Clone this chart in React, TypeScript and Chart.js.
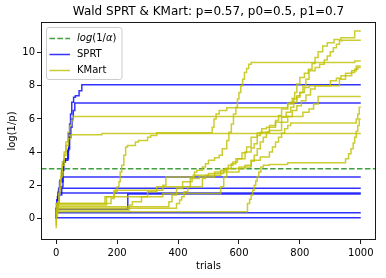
import React, { useEffect, useRef } from "react";
import { Chart, registerables } from "chart.js";

Chart.register(...registerables);

const TITLE = "Wald SPRT & KMart: p=0.57, p0=0.5, p1=0.7";
const X_LABEL = "trials";
const Y_LABEL = "log(1/p)";
const X_TICKS = [0, 200, 400, 600, 800, 1000];
const Y_TICKS = [0, 2, 4, 6, 8, 10];
const X_MIN = -50;
const X_MAX = 1050;
const Y_MIN = -1.31;
const Y_MAX = 11.85;
const THRESHOLD = 2.996; // log(1/alpha), alpha = 0.05
const LEGEND_LABELS = ["SPRT", "KMart"];

// SPRT paths: [trial, log(1/p)]
const sprt1 = [[0, 0], [3, 0.5], [7, 1.1], [11, 1.6], [15, 2.2], [22, 2.2], [25, 2.9], [28, 3.5], [38, 3.5], [41, 4.1], [44, 5.1], [47, 5.7], [51, 6.3], [57, 7.0], [63, 7.3], [75, 7.4], [84, 7.7], [90, 8.06], [1000, 8.06]];
const sprt2 = [[0, 0], [4, 0.6], [8, 1.3], [12, 1.8], [18, 2.3], [23, 2.9], [30, 3.4], [40, 3.6], [44, 4.2], [48, 4.9], [52, 5.5], [56, 6.0], [61, 6.5], [66, 6.96], [1000, 6.96]];
const sprt3 = [[0, 0], [4, 0.4], [8, 0.9], [12, 1.4], [18, 1.4], [22, 1.9], [28, 2.5], [1000, 2.5]];
const sprt4 = [[0, 0], [4, 0.55], [8, 1.1], [14, 1.82], [1000, 1.82]];
const sprt5 = [[0, 0], [3, 0.6], [6, 1.1], [9, 1.52], [1000, 1.52]];
const sprt6 = [[0, 0], [3, 0.55], [235, 0.55], [237, 1.47], [1000, 1.47]];
const sprt7 = [[0, 0], [3, 0.34], [1000, 0.34]];
const sprt8 = [[0, 0.04], [1000, 0.04]];

// KMart paths: [trial, log(1/p)]
const kmart1 = [[0, -0.6], [4, 0.1], [8, 0.8], [12, 1.5], [16, 2.2], [20, 2.8], [26, 3.4], [32, 4.0], [38, 4.6], [44, 5.2], [50, 5.6], [56, 5.9], [62, 6.15], [810, 6.15], [830, 6.4], [845, 6.6], [860, 6.9], [875, 7.35], [1000, 7.35]];
const kmart2 = [[0, -0.4], [5, 0.3], [10, 1.0], [15, 1.8], [20, 2.5], [26, 3.2], [32, 3.8], [40, 4.4], [48, 4.8], [58, 5.05], [150, 5.05], [160, 5.12], [1000, 5.12]];
const kmart3 = [[0, 0.2], [5, 0.5], [10, 0.8], [165, 0.8], [170, 1.3], [190, 1.3], [200, 1.6], [206, 1.9], [210, 2.2], [215, 2.8], [222, 3.2], [228, 3.8], [234, 4.3], [260, 4.4], [270, 4.6], [300, 4.7], [310, 4.9], [330, 5.0], [335, 5.17], [512, 5.17], [518, 5.5], [525, 6.0], [535, 6.3], [560, 6.5], [575, 6.68], [760, 6.68], [770, 6.95], [780, 7.0], [790, 7.2], [800, 7.4], [815, 7.6], [830, 7.9], [860, 8.0], [900, 8.0], [920, 8.3], [935, 8.45], [950, 8.6], [970, 8.75], [985, 8.9], [995, 9.2], [1000, 9.2]];
const kmart4 = [[0, 0.1], [6, 0.4], [628, 0.4], [635, 0.9], [640, 1.15], [645, 1.4], [650, 1.7], [655, 2.0], [660, 2.25], [665, 2.5], [672, 2.8], [680, 3.1], [700, 3.2], [760, 3.25], [820, 3.35], [950, 3.35], [960, 3.6], [968, 3.9], [975, 4.2], [980, 4.55], [985, 4.9], [990, 5.25], [995, 5.6], [1000, 6.0]];
const kmart5 = [[0, 0.5], [5, 0.6], [395, 0.6], [405, 0.9], [412, 1.1], [420, 1.3], [432, 1.6], [440, 1.9], [446, 2.2], [454, 2.5], [462, 2.8], [480, 2.9], [490, 3.1], [500, 3.3], [520, 3.5], [535, 3.65], [545, 3.8], [560, 4.2], [567, 4.7], [575, 5.2], [582, 5.7], [590, 6.3], [595, 6.7], [600, 7.2], [606, 7.6], [612, 8.0], [618, 8.4], [625, 8.8], [632, 9.05], [640, 9.3], [690, 9.4], [980, 9.4], [990, 9.5], [1000, 9.5]];
const kmart6 = [[0, 0.7], [10, 0.9], [180, 0.9], [190, 1.2], [200, 1.7], [350, 1.7], [360, 2.0], [372, 2.5], [450, 2.5], [470, 2.6], [540, 2.6], [555, 2.9], [600, 3.0], [640, 3.1], [650, 3.45], [660, 3.8], [670, 4.2], [680, 4.6], [690, 4.9], [700, 5.2], [720, 5.6], [730, 5.9], [740, 6.2], [760, 6.6], [775, 6.9], [783, 7.25], [790, 7.6], [800, 8.1], [815, 8.5], [828, 8.75], [840, 9.0], [850, 9.35], [860, 9.7], [875, 10.05], [890, 10.4], [912, 10.6], [935, 10.8], [980, 10.9], [993, 11.3], [1000, 11.3]];
const kmart7 = [[0, 0.6], [8, 0.7], [370, 0.7], [380, 1.0], [395, 1.4], [415, 1.8], [440, 2.2], [470, 2.4], [520, 2.5], [550, 2.7], [565, 2.95], [580, 3.2], [595, 3.4], [610, 3.6], [625, 3.95], [640, 4.3], [660, 4.9], [675, 5.15], [690, 5.4], [720, 5.5], [740, 5.8], [755, 6.1], [770, 6.4], [780, 6.7], [790, 7.0], [800, 7.3], [810, 7.6], [820, 8.0], [830, 8.4], [850, 8.9], [865, 9.1], [880, 9.3], [890, 9.55], [900, 9.8], [910, 10.05], [920, 10.3], [930, 10.5], [940, 10.72], [1000, 10.75]];
const kmart8 = [[0, 0.8], [10, 0.9], [160, 0.9], [170, 1.3], [350, 1.3], [360, 1.5], [540, 1.5], [550, 1.9], [560, 2.5], [575, 3.0], [590, 3.3], [620, 3.6], [640, 4.0], [650, 4.25], [660, 4.5], [670, 5.0], [700, 5.2], [740, 5.3], [760, 5.8], [775, 6.15], [790, 6.5], [805, 6.8], [820, 7.1], [835, 7.45], [850, 7.8], [880, 8.0], [930, 8.0], [950, 8.4], [970, 8.6], [980, 8.8], [990, 9.0], [1000, 9.1]];
const kmart9 = [[0, 0.4], [6, 0.5], [240, 0.5], [250, 0.8], [280, 1.0], [300, 1.3], [330, 1.6], [350, 1.9], [480, 1.9], [490, 2.4], [500, 2.6], [520, 2.7], [600, 2.8], [620, 3.0], [640, 3.2], [670, 3.5], [700, 3.7], [710, 4.0], [720, 4.3], [730, 4.6], [740, 4.9], [750, 5.15], [760, 5.4], [770, 5.6], [780, 5.75], [985, 5.75], [990, 6.0], [995, 6.3], [1000, 6.7]];

const SPRT_SERIES = [sprt1, sprt2, sprt3, sprt4, sprt5, sprt6, sprt7, sprt8];
const KMART_SERIES = [kmart1, kmart2, kmart3, kmart4, kmart5, kmart6, kmart7, kmart8, kmart9];

const BLUE = "rgba(0,0,255,0.8)";
const YELLOW = "rgba(191,191,0,0.8)";
const GREEN = "rgba(0,128,0,0.75)";
const FONT = '"DejaVu Sans", sans-serif';

const toPts = (arr: number[][]) => arr.map(([x, y]) => ({ x, y }));

const decorPlugin = {
  id: "decor",
  afterDraw(chart: any) {
    const { ctx, chartArea } = chart;
    const { left, right, top, bottom } = chartArea;
    ctx.save();
    ctx.strokeStyle = "#1a1a1a";
    ctx.lineWidth = 1;
    ctx.strokeRect(left + 0.5, top + 0.5, right - left - 1, bottom - top - 1);
    ctx.fillStyle = "#000";
    ctx.textAlign = "center";
    ctx.textBaseline = "middle";
    ctx.font = `12px ${FONT}`;
    ctx.fillText(TITLE, (left + right) / 2, 12);
    ctx.font = `10px ${FONT}`;
    ctx.fillText(X_LABEL, (left + right) / 2, 266);
    ctx.save();
    ctx.translate(12, (top + bottom) / 2);
    ctx.rotate(-Math.PI / 2);
    ctx.fillText(Y_LABEL, 0, 0);
    ctx.restore();

    const bx = 46.5, by = 27.5, bw = 75.5, bh = 52, r = 2.5;
    ctx.beginPath();
    ctx.moveTo(bx + r, by);
    ctx.lineTo(bx + bw - r, by);
    ctx.quadraticCurveTo(bx + bw, by, bx + bw, by + r);
    ctx.lineTo(bx + bw, by + bh - r);
    ctx.quadraticCurveTo(bx + bw, by + bh, bx + bw - r, by + bh);
    ctx.lineTo(bx + r, by + bh);
    ctx.quadraticCurveTo(bx, by + bh, bx, by + bh - r);
    ctx.lineTo(bx, by + r);
    ctx.quadraticCurveTo(bx, by, bx + r, by);
    ctx.closePath();
    ctx.fillStyle = "rgba(255,255,255,0.8)";
    ctx.fill();
    ctx.strokeStyle = "#cccccc";
    ctx.lineWidth = 1;
    ctx.stroke();

    const rows = [38.5, 54.5, 70.5];
    const hx0 = 49.5, hx1 = 70, tx = 77;
    ctx.lineWidth = 1.5;
    ctx.strokeStyle = GREEN;
    ctx.setLineDash([5.5, 2.4]);
    ctx.beginPath();
    ctx.moveTo(hx0, rows[0]);
    ctx.lineTo(hx1, rows[0]);
    ctx.stroke();
    ctx.setLineDash([]);
    ctx.strokeStyle = BLUE;
    ctx.beginPath();
    ctx.moveTo(hx0, rows[1]);
    ctx.lineTo(hx1, rows[1]);
    ctx.stroke();
    ctx.strokeStyle = YELLOW;
    ctx.beginPath();
    ctx.moveTo(hx0, rows[2]);
    ctx.lineTo(hx1, rows[2]);
    ctx.stroke();

    ctx.fillStyle = "#000";
    ctx.textAlign = "left";
    ctx.textBaseline = "middle";
    const parts: [string, boolean][] = [["log", true], ["(1/", false], ["α", true], [")", false]];
    let cx = tx;
    for (const [s, it] of parts) {
      ctx.font = `${it ? "italic " : ""}10px ${FONT}`;
      ctx.fillText(s, cx, rows[0]);
      cx += ctx.measureText(s).width;
    }
    ctx.font = `10px ${FONT}`;
    ctx.fillText(LEGEND_LABELS[0], tx, rows[1]);
    ctx.fillText(LEGEND_LABELS[1], tx, rows[2]);
    ctx.restore();
  },
};

export default function App() {
  const ref = useRef<HTMLCanvasElement | null>(null);
  useEffect(() => {
    document.body.style.margin = "0";
    const canvas = ref.current;
    if (!canvas) return;
    const datasets: any[] = [];
    datasets.push({
      data: [{ x: X_MIN, y: THRESHOLD }, { x: X_MAX, y: THRESHOLD }],
      borderColor: GREEN,
      borderDash: [5.5, 2.4],
      borderWidth: 1.5,
      order: 3,
    });
    SPRT_SERIES.forEach((s) =>
      datasets.push({ data: toPts(s), borderColor: BLUE, borderWidth: 1.5, order: 2, stepped: "after" })
    );
    KMART_SERIES.forEach((s) =>
      datasets.push({ data: toPts(s), borderColor: YELLOW, borderWidth: 1.5, order: 1, stepped: "after" })
    );
    datasets.forEach((d) => {
      d.pointRadius = 0;
      d.tension = 0;
      d.fill = false;
      d.borderCapStyle = "butt";
      d.borderJoinStyle = "miter";
    });

    const chart = new Chart(canvas, {
      type: "line",
      data: { datasets },
      options: {
        animation: false,
        responsive: false,
        devicePixelRatio: 1,
        layout: { padding: { top: 22, right: 10, left: 0, bottom: 0 } },
        plugins: { legend: { display: false }, tooltip: { enabled: false }, title: { display: false } },
        scales: {
          x: {
            type: "linear",
            min: X_MIN,
            max: X_MAX,
            afterBuildTicks: (scale: any) => {
              scale.ticks = X_TICKS.map((v) => ({ value: v }));
            },
            afterFit: (scale: any) => {
              scale.height = 38;
            },
            ticks: {
              color: "#000",
              font: { family: FONT, size: 10 },
              padding: 3,
              maxRotation: 0,
              autoSkip: false,
              callback: (v: any) => String(v),
            },
            grid: { display: true, drawOnChartArea: false, drawTicks: true, tickLength: 4, color: "#1a1a1a", lineWidth: 1 },
            border: { display: false },
          },
          y: {
            type: "linear",
            min: Y_MIN,
            max: Y_MAX,
            afterBuildTicks: (scale: any) => {
              scale.ticks = Y_TICKS.map((v) => ({ value: v }));
            },
            afterFit: (scale: any) => {
              scale.width = 41;
            },
            ticks: {
              color: "#000",
              font: { family: FONT, size: 10 },
              padding: 2,
              autoSkip: false,
              callback: (v: any) => String(v),
            },
            grid: { display: true, drawOnChartArea: false, drawTicks: true, tickLength: 4, color: "#1a1a1a", lineWidth: 1 },
            border: { display: false },
          },
        },
      },
      plugins: [decorPlugin],
    });
    return () => chart.destroy();
  }, []);

  return (
    <div style={{ position: "absolute", left: 0, top: 0, width: 386, height: 278 }}>
      <canvas ref={ref} width={386} height={278} style={{ width: 386, height: 278 }} />
    </div>
  );
}
